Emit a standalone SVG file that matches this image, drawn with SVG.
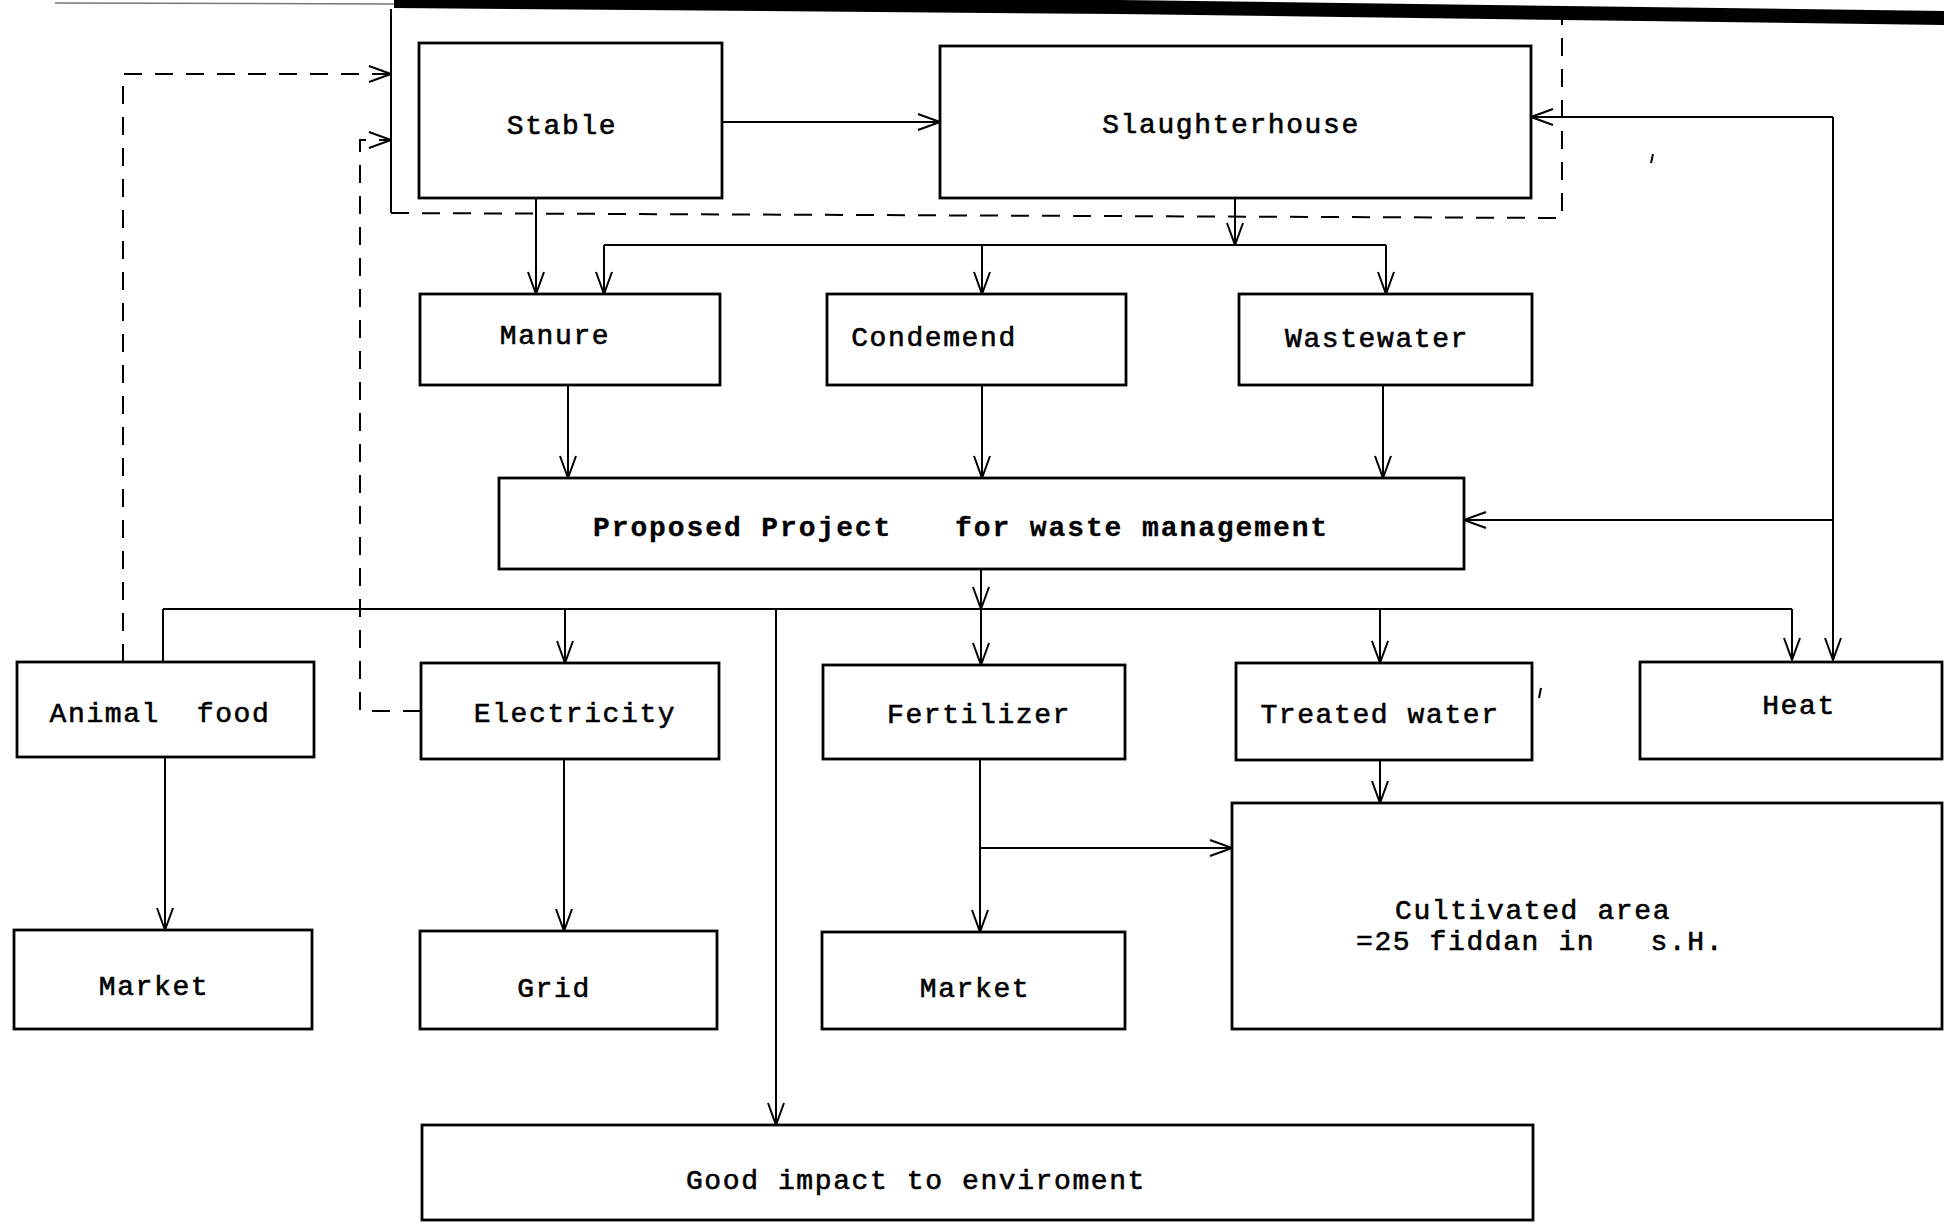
<svg xmlns="http://www.w3.org/2000/svg" width="1944" height="1224" viewBox="0 0 1944 1224">
<style>
.box{fill:#fff;stroke:#000;stroke-width:2.8}
.t{font-family:"Liberation Mono","DejaVu Sans Mono",monospace;font-size:28px;letter-spacing:1.6px;fill:#000;stroke:#000;stroke-width:0.6px;text-anchor:middle}
.ts{text-anchor:start}
.b{font-weight:bold;letter-spacing:1.9px;stroke-width:0.3px}
.c{fill:none;stroke:#000;stroke-width:2}
.d{fill:none;stroke:#000;stroke-width:2;stroke-dasharray:18 13}
</style>
<defs>
<marker id="arr" viewBox="0 0 24 20" refX="23" refY="10" markerWidth="24" markerHeight="20" markerUnits="userSpaceOnUse" orient="auto">
<path d="M1,2 L23,10 L1,18" fill="none" stroke="#000" stroke-width="2"/>
</marker>
</defs>
<rect width="1944" height="1224" fill="#fff"/>
<g id="scan-edge">
<polygon points="394,0 1120,0 1944,11 1944,25 1120,14 394,8" fill="#000"/>
<line x1="55" y1="3" x2="394" y2="4" stroke="#777" stroke-width="1.5"/>
<line x1="1653" y1="154" x2="1651" y2="163" stroke="#000" stroke-width="2"/>
<line x1="1541" y1="688" x2="1539" y2="698" stroke="#000" stroke-width="2"/>
</g>
<g id="enclosure">
<line x1="391" y1="9" x2="391" y2="213" class="c"/>
<path d="M391,213 L1562,218 V20" class="d"/>
</g>
<g id="connectors">
<path d="M722,122 H940" class="c" marker-end="url(#arr)"/>
<path d="M536,198 V294" class="c" marker-end="url(#arr)"/>
<path d="M1235,198 V245" class="c" marker-end="url(#arr)"/>
<path d="M604,245 H1386" class="c"/>
<path d="M604,245 V294" class="c" marker-end="url(#arr)"/>
<path d="M982,245 V294" class="c" marker-end="url(#arr)"/>
<path d="M1386,245 V294" class="c" marker-end="url(#arr)"/>
<path d="M568,385 V478" class="c" marker-end="url(#arr)"/>
<path d="M982,385 V478" class="c" marker-end="url(#arr)"/>
<path d="M1383,385 V478" class="c" marker-end="url(#arr)"/>
<path d="M981,569 V609" class="c" marker-end="url(#arr)"/>
<path d="M163,609 H1792" class="c" stroke-width="2.6"/>
<path d="M163,609 V662" class="c"/>
<path d="M565,609 V663" class="c" marker-end="url(#arr)"/>
<path d="M776,609 V1125" class="c" marker-end="url(#arr)"/>
<path d="M981,609 V665" class="c" marker-end="url(#arr)"/>
<path d="M1380,609 V663" class="c" marker-end="url(#arr)"/>
<path d="M1792,609 V660" class="c" marker-end="url(#arr)"/>
<path d="M1833,117 V660" class="c" marker-end="url(#arr)"/>
<path d="M1833,117 H1531" class="c" marker-end="url(#arr)"/>
<path d="M1833,520 H1464" class="c" marker-end="url(#arr)"/>
<path d="M165,757 V930" class="c" marker-end="url(#arr)"/>
<path d="M564,759 V931" class="c" marker-end="url(#arr)"/>
<path d="M980,759 V932" class="c" marker-end="url(#arr)"/>
<path d="M980,848 H1232" class="c" marker-end="url(#arr)"/>
<path d="M1380,760 V803" class="c" marker-end="url(#arr)"/>
<path d="M123,662 V74 H391" class="d" marker-end="url(#arr)"/>
<path d="M421,711 H360 V140 H391" class="d" marker-end="url(#arr)"/>
</g>
<g id="stable"><rect class="box" x="419" y="43" width="303" height="155"/><text class="t" x="562" y="134">Stable</text></g>
<g id="slaughterhouse"><rect class="box" x="940" y="46" width="591" height="152"/><text class="t" x="1231" y="133">Slaughterhouse</text></g>
<g id="manure"><rect class="box" x="420" y="294" width="300" height="91"/><text class="t" x="555" y="344">Manure</text></g>
<g id="condemend"><rect class="box" x="827" y="294" width="299" height="91"/><text class="t" x="934" y="346">Condemend</text></g>
<g id="wastewater"><rect class="box" x="1239" y="294" width="293" height="91"/><text class="t" x="1377" y="347">Wastewater</text></g>
<g id="proposed-project"><rect class="box" x="499" y="478" width="965" height="91"/><text class="t ts b" x="593" y="536" xml:space="preserve"><tspan x="593">Proposed Project</tspan>   <tspan x="955">for waste management</tspan></text></g>
<g id="animal-food"><rect class="box" x="17" y="662" width="297" height="95"/><text class="t" x="160" y="722" xml:space="preserve">Animal  food</text></g>
<g id="electricity"><rect class="box" x="421" y="663" width="298" height="96"/><text class="t" x="575" y="722">Electricity</text></g>
<g id="fertilizer"><rect class="box" x="823" y="665" width="302" height="94"/><text class="t" x="979" y="723">Fertilizer</text></g>
<g id="treated-water"><rect class="box" x="1236" y="663" width="296" height="97"/><text class="t" x="1380" y="723">Treated water</text></g>
<g id="heat"><rect class="box" x="1640" y="662" width="302" height="97"/><text class="t" x="1799" y="714">Heat</text></g>
<g id="market-1"><rect class="box" x="14" y="930" width="298" height="99"/><text class="t" x="154" y="995">Market</text></g>
<g id="grid"><rect class="box" x="420" y="931" width="297" height="98"/><text class="t" x="554" y="997">Grid</text></g>
<g id="market-2"><rect class="box" x="822" y="932" width="303" height="97"/><text class="t" x="975" y="997">Market</text></g>
<g id="cultivated-area"><rect class="box" x="1232" y="803" width="710" height="226"/><text class="t ts" x="1395" y="919">Cultivated area</text><text class="t ts" x="1356" y="950" xml:space="preserve">=25 fiddan in   s.H.</text></g>
<g id="good-impact"><rect class="box" x="422" y="1125" width="1111" height="95"/><text class="t" x="916" y="1189">Good impact to enviroment</text></g>
</svg>
